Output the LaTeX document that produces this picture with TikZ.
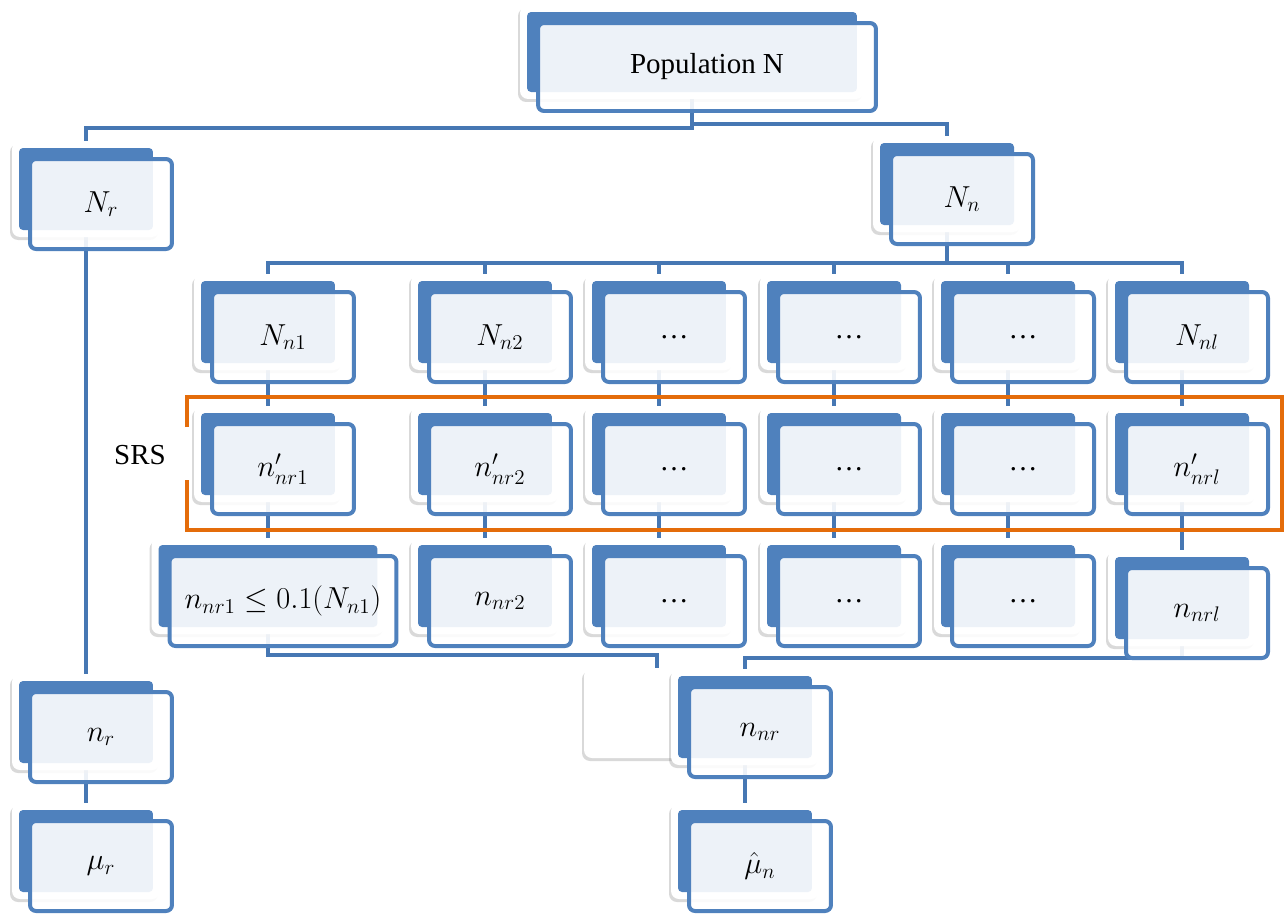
\documentclass[tikz,border=0pt]{standalone}
\usepackage{fontspec}
\setmainfont{Liberation Serif}
\usepackage{xcolor}
\usetikzlibrary{shadows}
\definecolor{cardblue}{HTML}{4F81BD}
\definecolor{linkblue}{HTML}{4677B3}
\definecolor{srsorange}{HTML}{E46C0A}
\pgfdeclarelayer{background}
\pgfsetlayers{background,main}

\begin{document}
\begin{tikzpicture}[
    x=0.02cm, y=-0.02cm,
    back/.style={rectangle, rounded corners=0.16cm, fill=white, inner sep=0pt,
        minimum width=2.96cm, minimum height=1.92cm,
        drop shadow={shadow xshift=-0.04cm, shadow yshift=-0.06cm, opacity=0.3},
        path picture={\fill[cardblue, rounded corners=0.08cm]
            ([xshift=0.14cm, yshift=-0.14cm]path picture bounding box.north west) rectangle
            ([xshift=-0.14cm, yshift=0.14cm]path picture bounding box.south east);}},
    ghostback/.style={rectangle, rounded corners=0.16cm, fill=white, inner sep=0pt,
        minimum width=2.92cm, minimum height=1.8cm,
        drop shadow={shadow xshift=-0.04cm, shadow yshift=-0.06cm, opacity=0.3}},
    front/.style={rectangle, rounded corners=0.12cm, draw=cardblue, line width=0.08cm,
        fill=white, fill opacity=0.9, text opacity=1, inner sep=0pt,
        minimum width=2.84cm, minimum height=1.8cm, font=\fontsize{16.5}{20}\selectfont},
    link/.style={draw=linkblue, line width=0.08cm},
    srsline/.style={draw=srsorange, line width=0.08cm}
]
\useasboundingbox (0,0) rectangle (1284,914);

% Top :
\node[back, minimum width=6.88cm, minimum height=1.88cm] (pop) at (692,52) {};
\node[front, minimum width=6.76cm, minimum height=1.76cm] (popf) at ([shift={(15,15)}]pop.center) {Population N};

\node[back] (Nr) at (86,189) {};
\node[front] (Nrf) at ([shift={(15,15)}]Nr.center) {$N_r$};
\node[back] (Nn) at (947,184) {};
\node[front] (Nnf) at ([shift={(15,15)}]Nn.center) {$N_n$};

% Strata :
\node[back] (Nn1) at (268,322) {};
\node[front] (Nn1f) at ([shift={(15,15)}]Nn1.center) {$N_{n1}$};
\node[back] (Nn2) at (485,322) {};
\node[front] (Nn2f) at ([shift={(15,15)}]Nn2.center) {$N_{n2}$};
\node[back] (Nn3) at (659,322) {};
\node[front] (Nn3f) at ([shift={(15,15)}]Nn3.center) {\dots};
\node[back] (Nn4) at (834,322) {};
\node[front] (Nn4f) at ([shift={(15,15)}]Nn4.center) {\dots};
\node[back] (Nn5) at (1008,322) {};
\node[front] (Nn5f) at ([shift={(15,15)}]Nn5.center) {\dots};
\node[back] (Nnl) at (1182,322) {};
\node[front] (Nnlf) at ([shift={(15,15)}]Nnl.center) {$N_{nl}$};

% First phase samples :
\node[back] (s1) at (268,454) {};
\node[front] (s1f) at ([shift={(15,15)}]s1.center) {$n'_{nr1}$};
\node[back] (s2) at (485,454) {};
\node[front] (s2f) at ([shift={(15,15)}]s2.center) {$n'_{nr2}$};
\node[back] (s3) at (659,454) {};
\node[front] (s3f) at ([shift={(15,15)}]s3.center) {\dots};
\node[back] (s4) at (834,454) {};
\node[front] (s4f) at ([shift={(15,15)}]s4.center) {\dots};
\node[back] (s5) at (1008,454) {};
\node[front] (s5f) at ([shift={(15,15)}]s5.center) {\dots};
\node[back] (sl) at (1182,454) {};
\node[front] (slf) at ([shift={(15,15)}]sl.center) {$n'_{nrl}$};

% Second phase samples :
\node[back, minimum width=4.66cm] (m1) at (268,586) {};
\node[front, minimum width=4.54cm] (m1f) at ([shift={(15,15)}]m1.center) {$n_{nr1} \leq 0.1(N_{n1})$};
\node[back] (m2) at (485,586) {};
\node[front] (m2f) at ([shift={(15,15)}]m2.center) {$n_{nr2}$};
\node[back] (m3) at (659,586) {};
\node[front] (m3f) at ([shift={(15,15)}]m3.center) {\dots};
\node[back] (m4) at (834,586) {};
\node[front] (m4f) at ([shift={(15,15)}]m4.center) {\dots};
\node[back] (m5) at (1008,586) {};
\node[front] (m5f) at ([shift={(15,15)}]m5.center) {\dots};
\node[back] (ml) at (1182,598) {};
\node[front] (mlf) at ([shift={(15,15)}]ml.center) {$n_{nrl}$};

% Bottom :
\node[back] (nr) at (86,722) {};
\node[front] (nrf) at ([shift={(15,15)}]nr.center) {$n_r$};
\node[back] (mur) at (86,851) {};
\node[front] (murf) at ([shift={(15,15)}]mur.center) {$\mu_r$};
\node[ghostback] (ghost) at (657,713) {};
\node[back] (nnr) at (745,717) {};
\node[front] (nnrf) at ([shift={(15,15)}]nnr.center) {$n_{nr}$};
\node[back] (mun) at (745,851) {};
\node[front] (munf) at ([shift={(15,15)}]mun.center) {$\hat{\mu}_n$};

% SRS frame :
\draw[srsline] (187,427) |- (1282,397) |- (187,530) -- (187,480);
\node[inner sep=0pt, font=\fontsize{16.5}{20}\selectfont] (srs) at (140,455) {SRS};

% Links :
\begin{pgfonlayer}{background}
\coordinate (bus0l) at (0,128);
\coordinate (bus0r) at (0,124);
\coordinate (bus1) at (0,263);
\coordinate (bus3l) at (0,655);
\coordinate (bus3r) at (0,658);

\draw[link] (pop) |- (bus0l -| Nr) -- (Nr);
\draw[link] (pop) |- (bus0r -| Nn) -- (Nn);

\draw[link] (Nn) |- (bus1 -| Nn1) -- (Nn1);
\draw[link] (Nn) |- (bus1 -| Nn2) -- (Nn2);
\draw[link] (Nn) |- (bus1 -| Nn3) -- (Nn3);
\draw[link] (Nn) |- (bus1 -| Nn4) -- (Nn4);
\draw[link] (Nn) |- (bus1 -| Nn5) -- (Nn5);
\draw[link] (Nn) |- (bus1 -| Nnl) -- (Nnl);

\draw[link] (Nn1) -- (s1);
\draw[link] (Nn2) -- (s2);
\draw[link] (Nn3) -- (s3);
\draw[link] (Nn4) -- (s4);
\draw[link] (Nn5) -- (s5);
\draw[link] (Nnl) -- (sl);

\draw[link] (s1) -- (m1);
\draw[link] (s2) -- (m2);
\draw[link] (s3) -- (m3);
\draw[link] (s4) -- (m4);
\draw[link] (s5) -- (m5);
\draw[link] (sl) -- (ml);

\draw[link] (m1) |- (bus3l -| ghost) -- (ghost);
\draw[link] (ml) |- (bus3r -| nnr) -- (nnr);

\draw[link] (Nr) -- (nr);
\draw[link] (nr) -- (mur);
\draw[link] (nnr) -- (mun);
\end{pgfonlayer}

\end{tikzpicture}
\end{document}
